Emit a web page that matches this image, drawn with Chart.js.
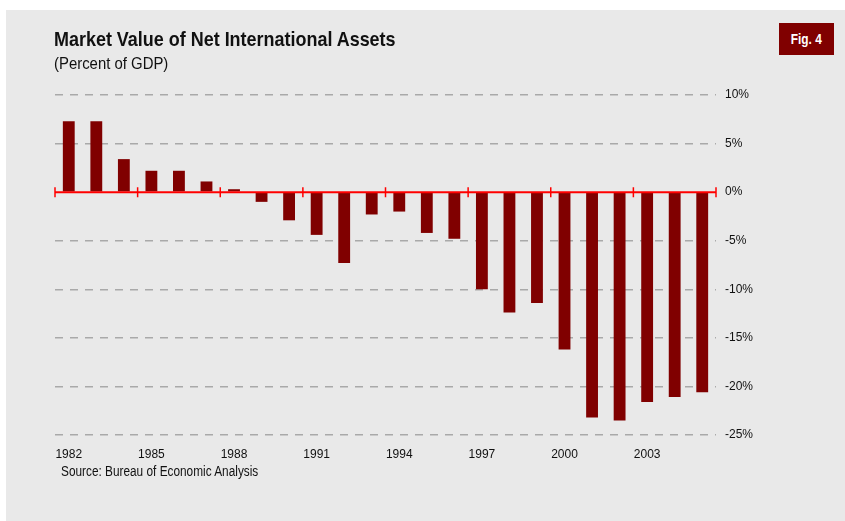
<!DOCTYPE html>
<html>
<head>
<meta charset="utf-8">
<script src="https://cdn.jsdelivr.net/npm/chart.js@4.4.1/dist/chart.umd.min.js"></script>
<style>
  html, body { margin: 0; padding: 0; background: #fff; }
  #wrap { position: relative; width: 845px; height: 521px; overflow: hidden; }
  #panel { position: absolute; left: 6px; top: 10px; right: 0; bottom: 0; background: #e9e9e9; }
  #chart { position: absolute; left: 0; top: 0; }
  .txt { position: absolute; font-family: "Liberation Sans", Arial, sans-serif; color: #111; white-space: nowrap; transform-origin: 0 0; }
  #title { left: 54px; top: 27px; font-size: 21px; font-weight: bold; transform: scaleX(0.855); }
  #subtitle { left: 54px; top: 54px; font-size: 17px; transform: scaleX(0.877); }
  #fig { left: 779px; top: 23px; width: 55px; height: 32px; background: #800000; color: #fff; font-size: 14px; font-weight: bold; text-align: center; line-height: 32px; }
  #fig span { display: inline-block; transform: scaleX(0.85); }
  #source { left: 61px; top: 463px; font-size: 14px; transform: scaleX(0.845); }
</style>
</head>
<body>
<div id="wrap">
  <div id="panel"></div>
  <canvas id="chart" width="845" height="521"></canvas>
  <div class="txt" id="title">Market Value of Net International Assets</div>
  <div class="txt" id="subtitle">(Percent of GDP)</div>
  <div class="txt" id="fig"><span>Fig. 4</span></div>
  <div class="txt" id="source">Source: Bureau of Economic Analysis</div>
</div>
<script>
const years = ["1982", "1983", "1984", "1985", "1986", "1987", "1988", "1989",
  "1990", "1991", "1992", "1993", "1994", "1995", "1996", "1997",
  "1998", "1999", "2000", "2001", "2002", "2003", "2004", "2005"];
const netAssets = [7.3, 7.3, 3.4, 2.2, 2.2, 1.1, 0.3, -1.0,
  -2.9, -4.4, -7.3, -2.3, -2.0, -4.2, -4.8, -10.0,
  -12.4, -11.4, -16.2, -23.2, -23.5, -21.6, -21.1, -20.6];
const yTicks = [10, 5, 0, -5, -10, -15, -20, -25];

const font = '"Liberation Sans", Arial, sans-serif';

// red zero line with ticks at every third year boundary
const zeroLine = {
  id: "zeroLine",
  afterDatasetsDraw(chart) {
    const ctx = chart.ctx;
    const x = chart.scales.x;
    const y0 = chart.scales.y.getPixelForValue(0);
    const half = (x.getPixelForValue(1) - x.getPixelForValue(0)) / 2;
    ctx.save();
    ctx.strokeStyle = "#ff0000";
    ctx.lineWidth = 2;
    ctx.beginPath();
    ctx.moveTo(chart.chartArea.left, y0);
    ctx.lineTo(chart.chartArea.right, y0);
    ctx.stroke();
    ctx.lineWidth = 1.5;
    ctx.beginPath();
    for (let i = 0; i <= years.length; i += 3) {
      const px = x.getPixelForValue(Math.min(i, years.length - 1)) + (i < years.length ? -half : half);
      ctx.moveTo(px, y0 - 5);
      ctx.lineTo(px, y0 + 5);
    }
    ctx.stroke();
    ctx.restore();
  }
};

new Chart(document.getElementById("chart"), {
  type: "bar",
  data: {
    labels: years,
    datasets: [{
      data: netAssets,
      backgroundColor: "#800000",
      barPercentage: 0.43,
      categoryPercentage: 1.0
    }]
  },
  options: {
    responsive: false,
    animation: false,
    layout: { padding: { left: 55, top: 95, right: 0, bottom: 0 } },
    plugins: { legend: { display: false }, tooltip: { enabled: false } },
    scales: {
      x: {
        grid: { display: false, drawTicks: false },
        border: { display: false },
        ticks: {
          autoSkip: false,
          maxRotation: 0,
          padding: 12,
          color: "#111",
          font: { family: font, size: 12 },
          callback: (v, i) => (i % 3 === 0 ? years[i] : "")
        },
        afterFit: (s) => { s.height = 86; }
      },
      y: {
        position: "right",
        min: -25,
        max: 10,
        afterBuildTicks: (s) => { s.ticks = yTicks.map((v) => ({ value: v })); },
        grid: {
          drawTicks: false,
          color: (c) => (c.tick && c.tick.value === 0 ? "rgba(0,0,0,0)" : "#a9a9a9"),
          lineWidth: 1.5
        },
        border: { display: false, dash: [8, 7] },
        ticks: {
          padding: 9,
          color: "#111",
          font: { family: font, size: 12 },
          callback: (v) => v + "%"
        },
        afterFit: (s) => { s.width = 129; }
      }
    }
  },
  plugins: [zeroLine]
});
</script>
</body>
</html>
